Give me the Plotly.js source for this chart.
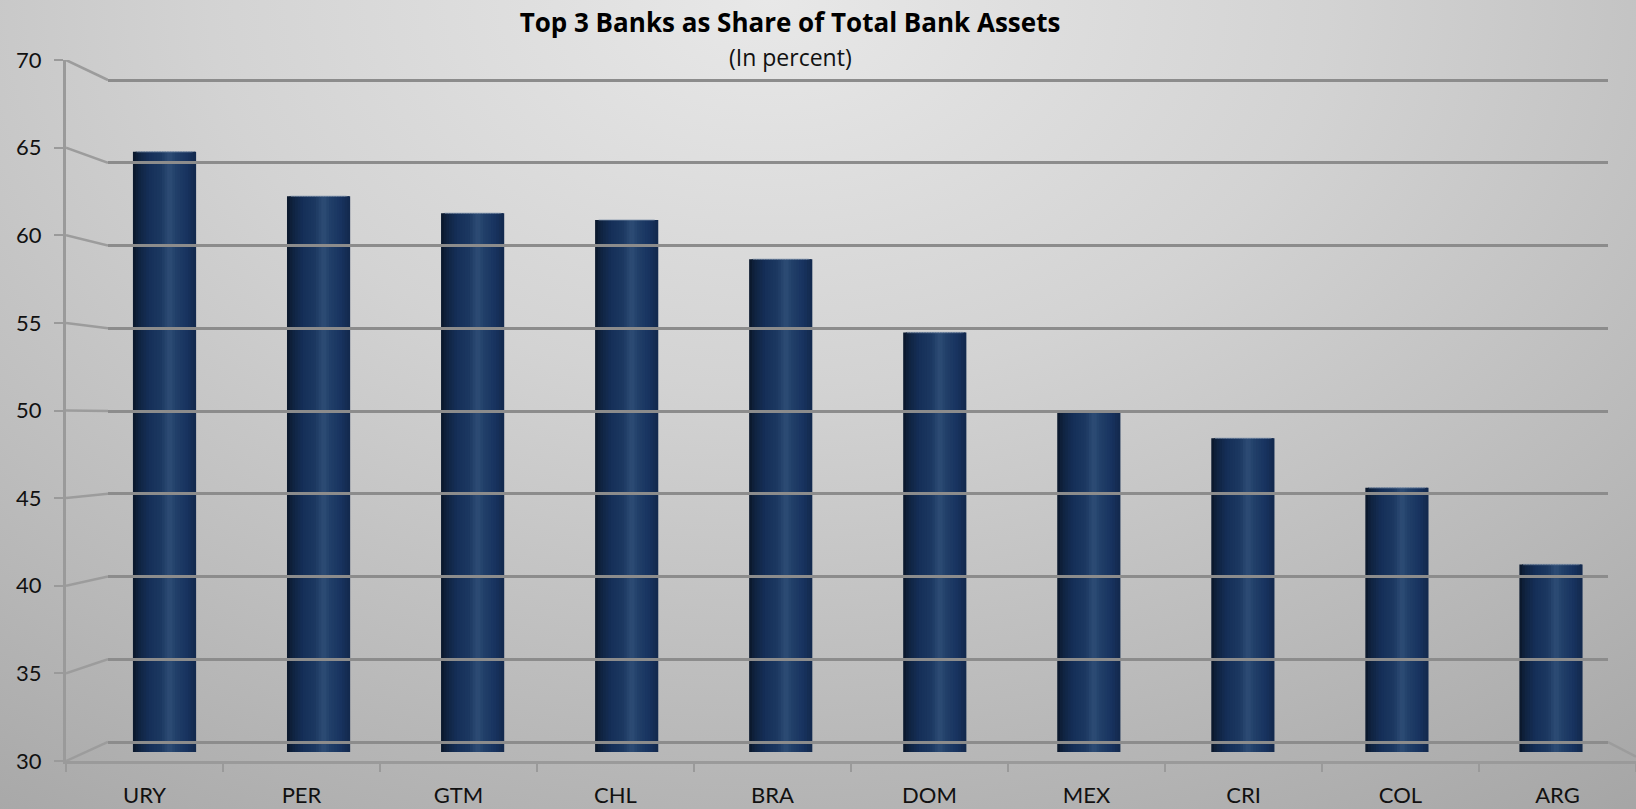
<!DOCTYPE html>
<html>
<head>
<meta charset="utf-8">
<script src="https://cdn.plot.ly/plotly-3.0.1.min.js"></script>
<style>
  html, body { margin: 0; padding: 0; }
  body {
    width: 1636px; height: 809px; overflow: hidden;
    background: radial-gradient(ellipse 90% 125% at 47% 0%, #e8e8e8 0%, #d3d3d3 38%, #bababa 72%, #a5a5a5 100%);
  }
  #chart { width: 1636px; height: 809px; }
</style>
</head>
<body>
<div id="chart"></div>
<script>
// ---- data ----
const categories = ['URY', 'PER', 'GTM', 'CHL', 'BRA', 'DOM', 'MEX', 'CRI', 'COL', 'ARG'];
const shareTop3 = [65.2, 62.6, 61.6, 61.2, 58.9, 54.6, 50.0, 48.4, 45.5, 41.0];
const yTickValues = [30, 35, 40, 45, 50, 55, 60, 65, 70];
const yRange = [30, 70];
const chartTitle = 'Top 3 Banks as Share of Total Bank Assets';
const chartSubtitle = '(In percent)';

// ---- geometry (pixels) ----
const W = 1636, H = 809;
const px = x => x / W;
const py = y => 1 - y / H;
const FRONT = { left: 66, top: 60, bottom: 761 };               // front axis plane
const BACK = { left: 108, right: 1608, top: 80, bottom: 742 };   // back wall
const MID = { left: 87.5, right: 1628, top: 70, bottom: 752 };   // bar plane

function backToFront(v) {
  const yb = BACK.bottom - (v - yRange[0]) / (yRange[1] - yRange[0]) * (BACK.bottom - BACK.top);
  return yRange[0] + (FRONT.bottom - yb) / (FRONT.bottom - FRONT.top) * (yRange[1] - yRange[0]);
}
// back wall axis: pad range slightly so gridlines at 30 and 70 are interior (Plotly skips edge grids)
const padV = 0.2;
const backPxPerUnit = (BACK.bottom - BACK.top) / (yRange[1] - yRange[0]);
const backRange = [yRange[0] - padV, yRange[1] + padV];
const backDomain = [py(BACK.bottom + padV * backPxPerUnit), py(BACK.top - padV * backPxPerUnit)];

const font = 'Lato, "Open Sans", sans-serif';
const titleFont = '"Open Sans", Lato, sans-serif';
const traces = [];

// invisible carriers so the front axes and back wall get drawn
traces.push({
  type: 'bar', x: categories, y: shareTop3, xaxis: 'x', yaxis: 'y',
  marker: { color: 'rgba(0,0,0,0)' }, hoverinfo: 'skip', showlegend: false
});
traces.push({
  type: 'scatter', mode: 'markers', x: [0.5], y: [yRange[0]], xaxis: 'x3', yaxis: 'y2',
  marker: { opacity: 0 }, hoverinfo: 'skip', showlegend: false
});

// ---- cylinder bars as overlaid vertical strips (shaded) ----
const stops = [
  [0.00, [10, 22, 40]],
  [0.08, [15, 34, 62]],
  [0.25, [21, 47, 88]],
  [0.45, [28, 57, 98]],
  [0.58, [46, 77, 118]],
  [0.68, [33, 64, 105]],
  [0.86, [24, 51, 95]],
  [1.00, [18, 40, 76]]
];
function shade(t) {
  for (let i = 1; i < stops.length; i++) {
    if (t <= stops[i][0]) {
      const [t0, c0] = stops[i - 1], [t1, c1] = stops[i];
      const f = (t - t0) / (t1 - t0);
      const c = c0.map((v, k) => Math.round(v + (c1[k] - v) * f));
      return `rgb(${c[0]},${c[1]},${c[2]})`;
    }
  }
  const c = stops[stops.length - 1][1];
  return `rgb(${c[0]},${c[1]},${c[2]})`;
}
const barW = 0.41, N = 24;
for (let j = 0; j < N; j++) {
  const sw = barW / N;
  const off = -barW / 2 + j * sw;
  const w = (j === N - 1) ? sw : sw * 1.6;
  traces.push({
    type: 'bar', x: categories, y: shareTop3, xaxis: 'x2', yaxis: 'y3',
    offset: off, width: w,
    marker: { color: shade((j + 0.5) / N), line: { width: 0 } },
    hoverinfo: 'skip', showlegend: false
  });
}
// top rim of each cylinder
traces.push({
  type: 'scatter', mode: 'markers', x: categories, y: shareTop3, xaxis: 'x2', yaxis: 'y3',
  marker: { symbol: 'line-ew', size: 40, line: { color: 'rgba(130,148,172,0.5)', width: 1.5 } },
  hoverinfo: 'skip', showlegend: false, cliponaxis: false
});

// ---- slanted connectors from front ticks to back-wall gridlines ----
const cx = [], cy = [];
yTickValues.forEach(v => { cx.push(0, 1, null); cy.push(v, backToFront(v), null); });
traces.push({
  type: 'scatter', mode: 'lines', x: cx, y: cy, xaxis: 'x4', yaxis: 'y',
  line: { color: '#9c9c9c', width: 2.5 }, hoverinfo: 'skip', showlegend: false, cliponaxis: false
});
// right edge of the floor
traces.push({
  type: 'scatter', mode: 'lines', x: [0, 1], y: [backToFront(yRange[0]), yRange[0] + 0.25],
  xaxis: 'x5', yaxis: 'y',
  line: { color: '#9c9c9c', width: 2.5 }, hoverinfo: 'skip', showlegend: false, cliponaxis: false
});

const layout = {
  width: W, height: H,
  margin: { l: 0, r: 0, t: 0, b: 0, pad: 0 },
  paper_bgcolor: 'rgba(0,0,0,0)',
  plot_bgcolor: 'rgba(0,0,0,0)',
  barmode: 'overlay',
  showlegend: false,
  font: { family: font, color: '#111111', size: 22 },
  title: {
    text: '<b>' + chartTitle + '</b>',
    x: px(790), xanchor: 'center', xref: 'paper',
    y: py(23), yanchor: 'middle', yref: 'paper',
    font: { family: titleFont, size: 26, color: '#000000' }
  },
  annotations: [{
    text: chartSubtitle, xref: 'paper', yref: 'paper',
    x: px(790), y: py(57), xanchor: 'center', yanchor: 'middle',
    showarrow: false, font: { family: titleFont, size: 23, color: '#111111' }
  }],
  xaxis: {
    visible: true, domain: [px(FRONT.left), 1], anchor: 'y', type: 'category',
    categoryorder: 'array', categoryarray: categories,
    range: [-0.5, categories.length - 0.5],
    tickson: 'boundaries', ticks: 'outside', ticklen: 8, tickwidth: 2, tickcolor: '#9a9a9a',
    showline: true, linecolor: '#9a9a9a', linewidth: 3,
    showgrid: false, zeroline: false, fixedrange: true,
    tickfont: { family: font, size: 22, color: '#111111' },
    ticklabelstandoff: 13
  },
  yaxis: {
    visible: true, domain: [py(FRONT.bottom), py(FRONT.top)], anchor: 'x', range: yRange,
    tickvals: yTickValues, ticks: 'outside', ticklen: 9, tickwidth: 2, tickcolor: '#9a9a9a',
    showline: true, linecolor: '#9a9a9a', linewidth: 3,
    showgrid: false, zeroline: false, fixedrange: true,
    tickfont: { family: font, size: 22, color: '#111111' },
    ticklabelstandoff: 8
  },
  xaxis3: { visible: false, domain: [px(BACK.left), px(BACK.right)], anchor: 'y2', range: [0, 1], fixedrange: true },
  yaxis2: {
    visible: true, domain: backDomain, anchor: 'x3', range: backRange,
    tickvals: yTickValues, showticklabels: false, ticks: '',
    showgrid: true, gridcolor: '#8c8c8c', gridwidth: 3,
    showline: false, zeroline: false, fixedrange: true
  },
  xaxis2: {
    visible: false, domain: [px(MID.left), px(MID.right)], anchor: 'y3', type: 'category',
    categoryorder: 'array', categoryarray: categories,
    range: [-0.5, categories.length - 0.5], fixedrange: true
  },
  yaxis3: { visible: false, domain: [py(MID.bottom), py(MID.top)], anchor: 'x2', range: yRange, fixedrange: true },
  xaxis4: { visible: false, domain: [px(FRONT.left), px(BACK.left)], anchor: 'y', range: [0, 1], fixedrange: true },
  xaxis5: { visible: false, domain: [px(BACK.right), 1], anchor: 'y', range: [0, 1], fixedrange: true }
};

Plotly.newPlot('chart', traces, layout, { staticPlot: true, displayModeBar: false });
</script>
</body>
</html>
